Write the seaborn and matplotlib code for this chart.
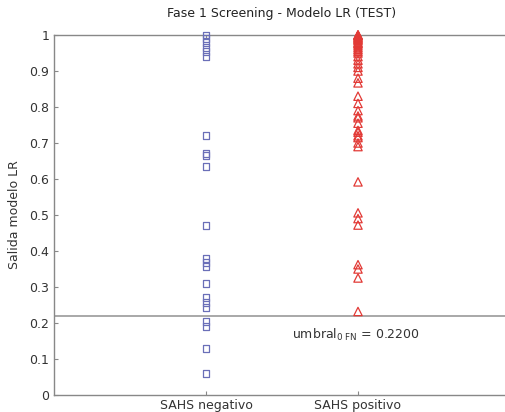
import matplotlib
matplotlib.use("Agg")
import matplotlib.pyplot as plt
import seaborn as sns
import pandas as pd

categories = ["SAHS negativo", "SAHS positivo"]
negativo = [1.0, 0.99, 0.98, 0.965, 0.955, 0.94, 0.722, 0.672, 0.665, 0.634,
            0.472, 0.378, 0.367, 0.356, 0.31, 0.27, 0.256, 0.243, 0.204, 0.19,
            0.13, 0.061]
positivo = [1.0, 1.0, 1.0, 0.998, 0.995, 0.993, 0.99, 0.988, 0.985, 0.98,
            0.977, 0.975, 0.97, 0.965, 0.96, 0.955, 0.95, 0.94, 0.93, 0.92,
            0.91, 0.90, 0.88, 0.867, 0.83, 0.81, 0.79, 0.775, 0.77, 0.755,
            0.735, 0.73, 0.72, 0.715, 0.70, 0.69, 0.592, 0.506, 0.49, 0.472,
            0.362, 0.35, 0.325, 0.232]
umbral = 0.22
yticks = [0, 0.1, 0.2, 0.3, 0.4, 0.5, 0.6, 0.7, 0.8, 0.9, 1]
ytick_labels = ["0", "0.1", "0.2", "0.3", "0.4", "0.5", "0.6", "0.7", "0.8", "0.9", "1"]

sns.set_style("white")
plt.rcParams["font.family"] = ["DejaVu Sans"]

df_neg = pd.DataFrame({"grupo": categories[0], "salida": negativo})
df_pos = pd.DataFrame({"grupo": categories[1], "salida": positivo})

fig = plt.figure(figsize=(5.06, 4.12), dpi=100)
ax = fig.add_axes([54 / 506, 17 / 412, 456 / 506, 360 / 412])

sns.stripplot(data=df_neg, x="grupo", y="salida", order=categories, jitter=False,
              marker="s", size=5, facecolor="none", edgecolor="#6a6fb8",
              linewidth=0.9, ax=ax)
sns.stripplot(data=df_pos, x="grupo", y="salida", order=categories, jitter=False,
              marker="^", size=6, facecolor="none", edgecolor="#e23a36",
              linewidth=0.9, ax=ax)
for coll in ax.collections:
    if len(coll.get_offsets()) > 0:
        coll.set_clip_on(False)

ax.axhline(umbral, color="#9a9a9a", linewidth=1.2, zorder=1)
ax.text(0.566, 0.167, r"umbral$_{0\ \mathrm{FN}}$ = 0.2200", fontsize=9,
        color="#333333", va="center", ha="left")

ax.set_xlim(-1, 2)
ax.set_ylim(0, 1)
ax.set_yticks(yticks)
ax.set_yticklabels(ytick_labels)
ax.set_xlabel("")
ax.set_ylabel("Salida modelo LR", fontsize=9, color="#333333", labelpad=6)
ax.set_title("Fase 1 Screening - Modelo LR (TEST)", fontsize=9, color="#222222", pad=13)

for s in ax.spines.values():
    s.set_visible(True)
    s.set_color("#888888")
    s.set_linewidth(1.0)
ax.tick_params(direction="in", length=3, width=0.8, color="#888888",
               labelsize=9, labelcolor="#333333", top=True, right=True,
               left=True, bottom=True)
ax.tick_params(axis="x", pad=3)

fig.savefig("out.png", dpi=100)
